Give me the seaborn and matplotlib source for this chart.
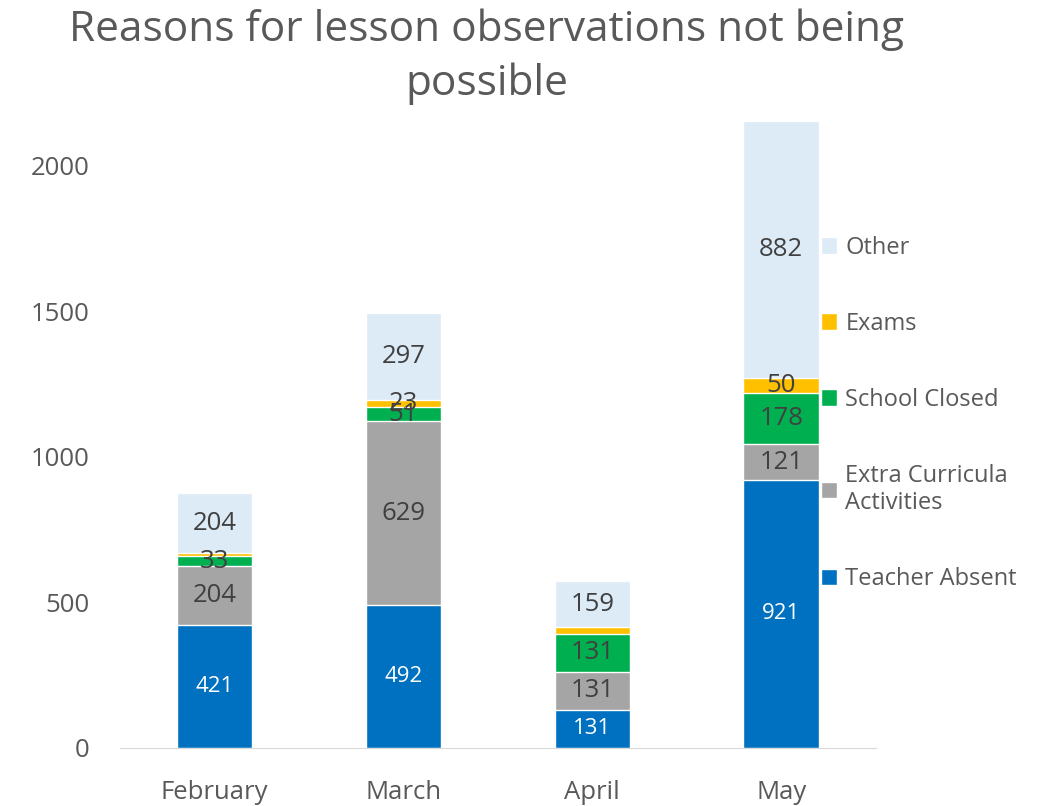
import seaborn as sns
import matplotlib.pyplot as plt
import numpy as np
import pandas as pd
from matplotlib.patches import Patch

months = ["February", "March", "April", "May"]
series = ["Teacher Absent", "Extra Curricula\nActivities", "School Closed", "Exams", "Other"]
teacher_absent = [421, 492, 131, 921]
extra_curricula = [204, 629, 131, 121]
school_closed = [33, 51, 131, 178]
exams = [12, 23, 21, 50]
other = [204, 297, 159, 882]
# which values get a data label (small exams bars in Feb/Apr had none)
exams_labelled = [False, True, False, True]

colors = ["#0070C0", "#A5A5A5", "#00B050", "#FFC000", "#DDEBF7"]
text_col = "#595959"

sns.set_style("white")
plt.rcParams['font.family'] = ['Open Sans', 'DejaVu Sans']

vals = np.array([teacher_absent, extra_curricula, school_closed, exams, other])
cum = vals.cumsum(axis=0)

fig = plt.figure(figsize=(10.45, 8.06), dpi=100)
ax = fig.add_axes([0.1148, 0.072, 0.7232, 0.795])

# classic seaborn stacking: draw cumulative totals from the top layer down
for i in range(len(series) - 1, -1, -1):
    df = pd.DataFrame({"month": months, "total": cum[i]})
    sns.barplot(data=df, x="month", y="total", color=colors[i], saturation=1,
                width=0.40, ax=ax)

for j in range(len(months)):
    for i in range(len(series)):
        if i == 3 and not exams_labelled[j]:
            continue
        mid = cum[i][j] - vals[i][j] / 2
        if i == 0:
            ax.text(j, mid, str(vals[i][j]), ha="center", va="center",
                    color="white", fontsize=16)
        else:
            ax.text(j, mid, str(vals[i][j]), ha="center", va="center",
                    color="#404040", fontsize=18.5)

ax.set_xlim(-0.5, 3.5)
ax.set_ylim(0, 2200)
ax.set_yticks([0, 500, 1000, 1500, 2000])
ax.set_xlabel("")
ax.set_ylabel("")
ax.tick_params(axis="both", length=0, labelsize=18.5, labelcolor=text_col)
ax.tick_params(axis="y", pad=22)
ax.tick_params(axis="x", pad=23)
for s in ["left", "right", "top"]:
    ax.spines[s].set_visible(False)
ax.spines["bottom"].set_color("#D9D9D9")

fig.suptitle("Reasons for lesson observations not being\npossible", x=0.466, y=0.99,
             fontsize=30.5, color=text_col, linespacing=1.38)

handles = [Patch(facecolor=colors[i], label=series[i]) for i in range(len(series) - 1, -1, -1)]
leg = fig.legend(handles=handles, loc="center left", bbox_to_anchor=(0.765, 0.487),
                 frameon=False, fontsize=17, labelspacing=2.2, handlelength=0.7,
                 handleheight=0.7, handletextpad=0.35)
for t in leg.get_texts():
    t.set_color(text_col)

fig.savefig("out.png", dpi=100)
